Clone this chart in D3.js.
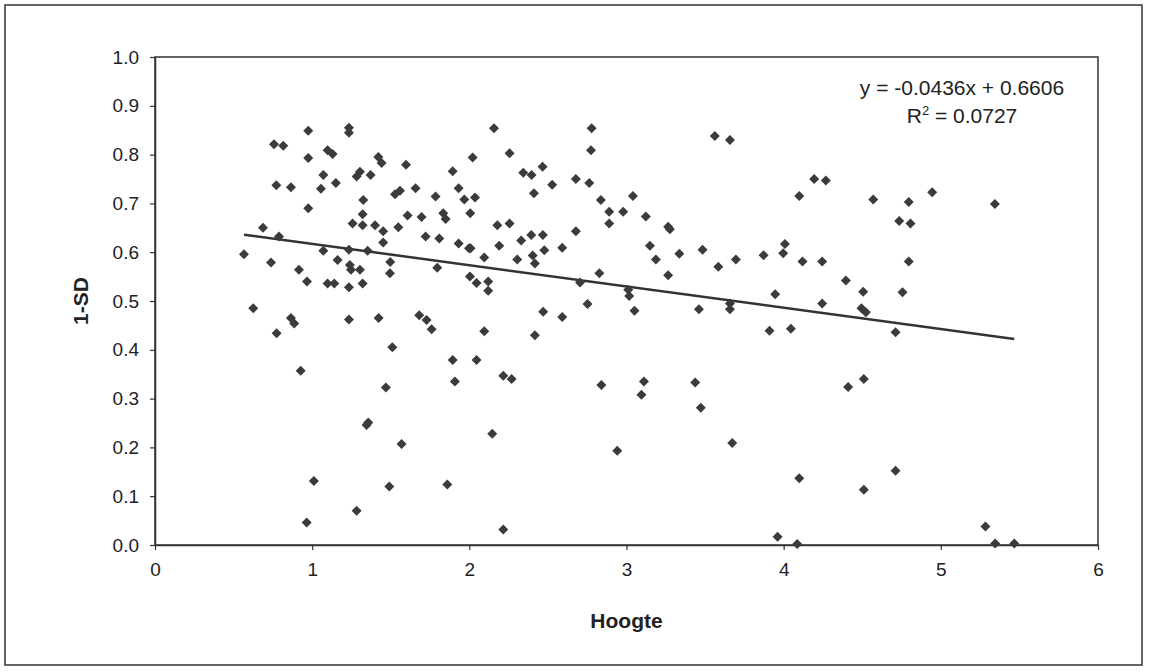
<!DOCTYPE html>
<html>
  <head>
    <title>Hoogte vs 1-SD</title>
    <script src="https://cdn.jsdelivr.net/npm/d3@7"></script>
    <style>
      body { margin: 0; background: #fff; }
      text { font-family: Arial, "Liberation Sans", sans-serif; fill: #222; }
    </style>
  </head>
  <body>
    <svg width="1151" height="672" id="mainsvg"></svg>
    <script>
        // Hoogte (x) values
        const hoogte = [0.566, 0.625, 0.687, 0.738, 0.757, 0.772, 0.774, 0.789, 0.816, 0.865,
          0.865, 0.886, 0.916, 0.927, 0.965, 0.967, 0.975, 0.975, 0.975, 1.011,
          1.056, 1.071, 1.071, 1.098, 1.098, 1.130, 1.141, 1.151, 1.162, 1.234,
          1.234, 1.234, 1.234, 1.234, 1.240, 1.247, 1.257, 1.283, 1.283, 1.304,
          1.304, 1.321, 1.321, 1.321, 1.325, 1.346, 1.353, 1.357, 1.372, 1.400,
          1.423, 1.421, 1.442, 1.452, 1.452, 1.469, 1.491, 1.497, 1.495, 1.510,
          1.527, 1.548, 1.559, 1.569, 1.597, 1.607, 1.658, 1.681, 1.696, 1.722,
          1.728, 1.760, 1.785, 1.796, 1.809, 1.834, 1.849, 1.860, 1.894, 1.894,
          1.908, 1.932, 1.932, 1.968, 1.998, 2.004, 2.006, 2.008, 2.021, 2.036,
          2.046, 2.046, 2.095, 2.095, 2.120, 2.120, 2.146, 2.157, 2.178, 2.190,
          2.216, 2.216, 2.256, 2.256, 2.269, 2.305, 2.330, 2.343, 2.394, 2.396,
          2.403, 2.411, 2.417, 2.417, 2.466, 2.468, 2.470, 2.477, 2.527, 2.591,
          2.591, 2.678, 2.678, 2.704, 2.752, 2.763, 2.774, 2.778, 2.827, 2.837,
          2.840, 2.890, 2.890, 2.941, 2.979, 3.011, 3.017, 3.041, 3.051, 3.095,
          3.111, 3.123, 3.149, 3.187, 3.265, 3.276, 3.265, 3.336, 3.437, 3.461,
          3.473, 3.484, 3.562, 3.584, 3.658, 3.658, 3.658, 3.673, 3.696, 3.872,
          3.910, 3.946, 3.961, 3.997, 4.008, 4.046, 4.086, 4.099, 4.099, 4.120,
          4.194, 4.245, 4.245, 4.268, 4.396, 4.410, 4.495, 4.506, 4.510, 4.510,
          4.523, 4.570, 4.712, 4.712, 4.735, 4.756, 4.796, 4.796, 4.807, 4.945,
          5.284, 5.344, 5.346, 5.467];
        // 1-SD (y) values
        const sd = [0.596, 0.485, 0.650, 0.579, 0.821, 0.737, 0.434, 0.632, 0.818, 0.733,
          0.465, 0.454, 0.564, 0.357, 0.046, 0.540, 0.849, 0.793, 0.690, 0.131,
          0.730, 0.603, 0.758, 0.809, 0.536, 0.801, 0.536, 0.742, 0.584, 0.855,
          0.845, 0.605, 0.528, 0.462, 0.574, 0.564, 0.659, 0.755, 0.070, 0.765,
          0.564, 0.678, 0.655, 0.536, 0.707, 0.246, 0.603, 0.251, 0.758, 0.655,
          0.465, 0.795, 0.783, 0.643, 0.620, 0.323, 0.120, 0.580, 0.557, 0.405,
          0.719, 0.651, 0.726, 0.207, 0.779, 0.675, 0.731, 0.471, 0.672, 0.632,
          0.461, 0.442, 0.714, 0.568, 0.628, 0.680, 0.668, 0.124, 0.766, 0.379,
          0.335, 0.731, 0.618, 0.708, 0.608, 0.550, 0.680, 0.608, 0.794, 0.712,
          0.537, 0.379, 0.589, 0.438, 0.540, 0.521, 0.228, 0.854, 0.655, 0.613,
          0.347, 0.032, 0.803, 0.659, 0.340, 0.585, 0.624, 0.763, 0.635, 0.758,
          0.593, 0.721, 0.577, 0.430, 0.775, 0.635, 0.478, 0.604, 0.738, 0.609,
          0.467, 0.750, 0.643, 0.538, 0.494, 0.742, 0.809, 0.854, 0.557, 0.707,
          0.328, 0.683, 0.659, 0.193, 0.683, 0.523, 0.510, 0.715, 0.480, 0.308,
          0.335, 0.673, 0.613, 0.585, 0.652, 0.647, 0.553, 0.597, 0.333, 0.483,
          0.281, 0.605, 0.838, 0.570, 0.830, 0.495, 0.483, 0.209, 0.585, 0.594,
          0.439, 0.514, 0.017, 0.598, 0.617, 0.443, 0.002, 0.715, 0.137, 0.581,
          0.750, 0.581, 0.495, 0.747, 0.542, 0.324, 0.485, 0.519, 0.340, 0.113,
          0.477, 0.708, 0.436, 0.152, 0.664, 0.518, 0.703, 0.581, 0.659, 0.723,
          0.038, 0.699, 0.003, 0.003];

        const xTicks = [0, 1, 2, 3, 4, 5, 6];
        const yTicks = [0, 0.1, 0.2, 0.3, 0.4, 0.5, 0.6, 0.7, 0.8, 0.9, 1.0];
        const slope = -0.0436, intercept = 0.6606, r2 = 0.0727;

        const data = hoogte.map((x, i) => ({x: x, y: sd[i]}));

        const svg = d3.select('#mainsvg');
        const margin = {top: 57, right: 53, bottom: 127, left: 155};
        const width = +svg.attr('width');
        const height = +svg.attr('height');
        const innerWidth = width - margin.left - margin.right;
        const innerHeight = height - margin.top - margin.bottom;

        // outer chart frame
        svg.append('rect')
        .attr('x', 5).attr('y', 5).attr('width', 1137).attr('height', 660)
        .attr('fill', '#fff').attr('stroke', '#333').attr('stroke-width', 1.5);

        const g = svg.append('g')
        .attr('transform', `translate(${margin.left}, ${margin.top})`);

        const xScale = d3.scaleLinear().domain([0, 6]).range([0, innerWidth]);
        const yScale = d3.scaleLinear().domain([0, 1]).range([innerHeight, 0]);

        // plot area border
        g.append('rect')
        .attr('width', innerWidth).attr('height', innerHeight)
        .attr('fill', 'none').attr('stroke', '#333').attr('stroke-width', 1.5);

        const xAxis = g.append('g')
        .attr('transform', `translate(0, ${innerHeight})`)
        .call(d3.axisBottom(xScale).tickValues(xTicks).tickFormat(d3.format('d'))
          .tickSizeInner(5).tickSizeOuter(0).tickPadding(13));
        const yAxis = g.append('g')
        .call(d3.axisLeft(yScale).tickValues(yTicks).tickFormat(d3.format('.1f'))
          .tickSizeInner(5).tickSizeOuter(0).tickPadding(11));

        [xAxis, yAxis].forEach(a => {
          a.attr('font-size', 19).attr('font-family', 'Arial, "Liberation Sans", sans-serif');
          a.select('.domain').attr('stroke', '#333').attr('stroke-width', 1.5);
          a.selectAll('.tick line').attr('stroke', '#333').attr('stroke-width', 1.2);
          a.selectAll('.tick text').attr('fill', '#222');
        });

        // axis titles
        g.append('text')
        .attr('x', innerWidth / 2).attr('y', innerHeight + 83)
        .attr('text-anchor', 'middle')
        .attr('font-size', 21).attr('font-weight', 'bold')
        .text('Hoogte');

        g.append('text')
        .attr('transform', `translate(${80 - margin.left}, ${innerHeight / 2}) rotate(-90)`)
        .attr('text-anchor', 'middle').attr('dominant-baseline', 'central')
        .attr('font-size', 21).attr('font-weight', 'bold')
        .text('1-SD');

        // trend line
        const xExt = d3.extent(hoogte);
        g.append('line')
        .attr('x1', xScale(xExt[0])).attr('y1', yScale(slope * xExt[0] + intercept))
        .attr('x2', xScale(xExt[1])).attr('y2', yScale(slope * xExt[1] + intercept))
        .attr('stroke', '#333').attr('stroke-width', 2.5);

        // diamond markers
        const diamond = 'M0,-5L5,0L0,5L-5,0Z';
        g.selectAll('path.pt').data(data).join('path')
        .attr('class', 'pt')
        .attr('transform', d => `translate(${xScale(d.x)}, ${yScale(d.y)})`)
        .attr('d', diamond)
        .attr('fill', '#3b3b3b');

        // equation label
        const eq = g.append('text')
        .attr('text-anchor', 'middle')
        .attr('font-size', 21);
        eq.append('tspan').attr('x', 807).attr('y', 38)
        .text(`y = ${slope}x + ${intercept}`);
        const r = eq.append('tspan').attr('x', 807).attr('y', 66);
        r.append('tspan').text('R');
        r.append('tspan').text('2').attr('font-size', 13).attr('dy', -8);
        r.append('tspan').text(` = ${r2}`).attr('dy', 8);
    </script>
  </body>
</html>
